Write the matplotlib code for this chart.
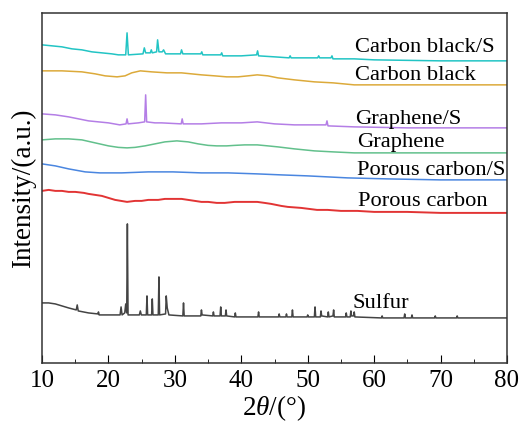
import numpy as np
import matplotlib
matplotlib.use('Agg')
import matplotlib.pyplot as plt

plt.rcParams['font.family'] = ['Liberation Serif', 'DejaVu Serif']
plt.rcParams['mathtext.fontset'] = 'custom'
plt.rcParams['mathtext.it'] = 'Liberation Serif:italic'
plt.rcParams['mathtext.rm'] = 'Liberation Serif'

## stacked XRD patterns, intensity in arbitrary units (offsets included)
cb_s_x = [10, 11.5, 13, 14.5, 16, 17.5, 19, 20.5, 21.5, 22.6, 22.8, 23.0, 25.2, 25.4, 25.6, 26.3, 26.45,
          26.6, 27.25, 27.4, 27.6, 28.1, 28.3, 28.6, 30.85, 31.0, 31.2, 33.9, 34.05, 34.2, 36.9, 37.05,
          37.2, 40.0, 42.3, 42.45, 42.6, 45, 47.2, 47.35, 47.5, 51.5, 51.65, 51.8, 53.5, 53.65, 53.8, 57,
          60, 70, 80]
cb_s_y = [318, 317, 316, 314, 313, 311, 310, 309, 308, 308, 330, 308, 309, 315, 310, 310, 313,
          310, 311, 323, 311, 311, 313, 309, 309, 313, 309, 309, 311, 308, 308, 310,
          307, 307, 308, 312, 307, 306, 305, 307, 305, 305, 307, 305, 305, 307, 304, 304,
          303, 302, 302]

cb_x = [10, 13, 16, 18, 19.5, 21.3, 22.5, 23.5, 24.8, 26.5, 28.8, 31, 34, 36, 37.8, 39.5, 41, 42.4,
        44, 45.5, 48, 51, 53.8, 57, 62, 70, 80]
cb_y = [292, 292, 291, 289, 287, 286, 287, 290, 292, 291, 290, 290, 288, 287, 286, 286, 287, 288,
        287, 285, 283, 281, 280, 278, 278, 278, 278]

gr_s_x = [10, 12, 14, 17, 20, 21.7, 22.65, 22.8, 22.95, 24.5, 25.45, 25.6, 25.75, 27, 28, 30.95, 31.1,
          31.25, 34, 37, 40, 42.4, 45, 48, 52.75, 52.9, 53.05, 57, 65, 80]
gr_s_y = [249, 248, 246, 242, 240, 238, 239, 244, 239, 240, 241, 268, 241, 240, 240, 239, 244,
          239, 239, 240, 240, 241, 239, 238, 238, 242, 237, 236, 235, 235]

gr_x = [10, 12, 14, 16, 18, 20, 21.5, 22.8, 24, 25.5, 27, 28.5, 30.3, 32, 33.5, 35, 36.3, 37.8, 39,
        40.5, 42.4, 44, 45.5, 48, 51, 53.8, 57, 65, 80]
gr_y = [223, 224, 224, 223, 220, 217, 215.5, 215, 215.5, 217, 219, 221, 222, 221, 219, 217.5, 217, 217, 217.5,
        218, 218, 217, 216, 214, 212, 211, 210, 210, 210]

pc_s_x = [10, 12, 14, 16.5, 18.7, 22, 26, 29.7, 34, 38, 42.4, 46, 50, 56, 62, 70, 80]
pc_s_y = [199, 197, 194, 191, 190, 190, 191, 191, 190, 190, 189, 188, 187, 185, 184, 183, 183]

pc_x = [10, 11, 12, 13, 14, 15, 16.3, 17, 18, 19, 20, 21, 22.8, 24, 25, 26, 27.5, 28.5, 29.7, 31, 32,
        33, 34, 35, 36.3, 37.5, 39, 40.5, 42.4, 43.5, 44.5, 46, 47, 49, 51.4, 53, 55, 57.5, 60, 65, 70, 75, 80]
pc_y = [172, 173, 172, 172, 171, 171, 170, 169, 168, 167, 165, 163, 161, 162, 162, 163, 163, 164, 164, 164, 163,
        162, 161, 161, 160, 160, 161, 161, 161, 160, 159, 157, 156, 155, 153, 153, 152, 152, 151, 151, 150, 150, 150]

s_x = [10, 11, 12, 13, 14, 15.15, 15.3, 15.45, 17, 18.4, 18.5, 18.6, 20, 21.75, 21.9, 22.05, 22.45, 22.6,
       22.75, 22.85, 22.95, 24.65, 24.8, 24.95, 25.7, 25.8, 25.9, 26.5, 26.6, 26.7, 27.5, 27.6, 27.7, 28.6,
       28.7, 28.85, 29.1, 31.2, 31.3, 31.4, 33.9, 34.0, 34.1, 35.7, 35.8, 35.9, 36.8, 36.9, 37.0, 37.6,
       37.7, 37.8, 39.0, 39.1, 39.2, 42.5, 42.6, 42.7, 45.6, 45.7, 45.8, 46.7, 46.8, 46.9, 47.6, 47.7,
       47.8, 49.9, 50, 50.1, 51.0, 51.1, 51.2, 51.9, 52.0, 52.1, 53.0, 53.1, 53.2, 53.8, 53.9, 54.0, 55.7,
       55.8, 55.9, 56.4, 56.5, 56.6, 56.9, 57.0, 57.1, 61.1, 61.2, 61.3, 64.5, 64.6, 64.7, 65.6, 65.7,
       65.8, 69.1, 69.2, 69.3, 72.4, 72.5, 72.6, 80]
s_y = [60, 60, 59, 57, 55, 53, 58, 52, 50, 49, 51, 48, 48, 48, 56, 48, 50, 59, 50,
       139, 48, 48, 52, 48, 48, 67, 48, 48, 64, 48, 48, 86, 48, 49, 67, 55,
       48, 47, 60, 47, 47, 53, 48, 47, 51, 47, 47, 56, 47, 47, 53, 47, 46,
       50, 46, 46, 51, 46, 46, 49, 46, 46, 49, 46, 46, 53, 46, 46, 48, 46,
       46, 56, 46, 46, 52, 47, 46, 51, 46, 47, 53, 46, 46, 50, 46, 46, 52,
       47, 47, 51, 46, 45, 47, 45, 45, 49, 45, 45, 48, 45, 45, 47, 45, 45, 47,
       45, 45]

series = [
    (cb_s_x, cb_s_y, '#22c4c4', 'Carbon black/S', 57.1, 311),
    (cb_x, cb_y, '#dcaa3a', 'Carbon black', 57.1, 283),
    (gr_s_x, gr_s_y, '#b47ee6', 'Graphene/S', 57.1, 239),
    (gr_x, gr_y, '#62c08c', 'Graphene', 57.4, 216),
    (pc_s_x, pc_s_y, '#4a86e0', 'Porous carbon/S', 57.4, 188),
    (pc_x, pc_y, '#e23434', 'Porous carbon', 57.6, 157),
    (s_x, s_y, '#444444', 'Sulfur', 56.8, 55),
]

fig = plt.figure(figsize=(5.32, 4.28), dpi=100)
ax = fig.add_axes([0.079, 0.152, 0.874, 0.818])

for x, y, c, name, tx, ty in series:
    ax.plot(x, y, color=c, lw=1.1 if c != '#e23434' else 1.4)
    ax.text(tx, ty, name, fontsize=16.2, va='baseline', ha='left')

ax.set_xlim(10, 80)
ax.set_ylim(0, 350)
ax.set_xticks(np.arange(10, 81, 10))
ax.set_xticks(np.arange(15, 80, 10), minor=True)
ax.set_yticks([])
ax.tick_params(axis='x', which='both', direction='in', labelsize=18, pad=5)
ax.tick_params(axis='x', which='major', length=5.5)
ax.tick_params(axis='x', which='minor', length=3)
for sp in ax.spines.values():
    sp.set_color('#333333')
    sp.set_linewidth(1.1)

ax.set_xlabel(r'2$\theta$/(°)', fontsize=19.5, labelpad=1)
ax.set_ylabel('Intensity/(a.u.)', fontsize=19.5, labelpad=4)

fig.savefig('out.png', dpi=100)
